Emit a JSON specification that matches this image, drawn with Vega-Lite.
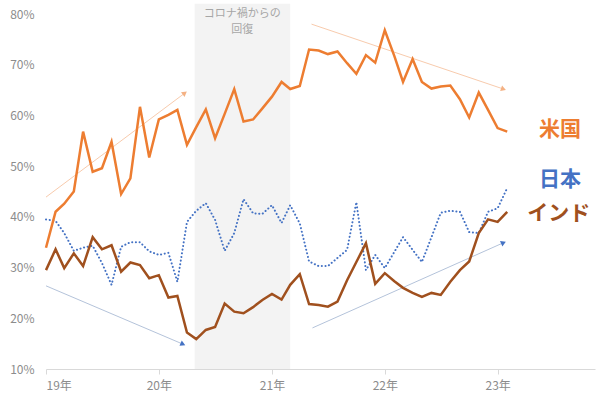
{
  "$schema": "https://vega.github.io/schema/vega-lite/v6.json",
  "autosize": {"type": "none"},
  "width": 549,
  "height": 355,
  "padding": {"left": 46, "top": 14, "right": 5, "bottom": 29},
  "background": "white",
  "config": {"view": {"stroke": null}, "font": "Noto Sans CJK JP"},
  "resolve": {"scale": {"color": "independent", "fill": "independent"}},
  "datasets": {
    "series": [
      {"date": "2019-01-01", "us": 33.9, "jp": 39.5, "in": 29.5},
      {"date": "2019-02-01", "us": 41.0, "jp": 39.2, "in": 33.6},
      {"date": "2019-03-01", "us": 42.6, "jp": 36.8, "in": 29.9},
      {"date": "2019-04-01", "us": 45.0, "jp": 33.3, "in": 32.8},
      {"date": "2019-05-01", "us": 56.8, "jp": 33.9, "in": 30.3},
      {"date": "2019-06-01", "us": 48.9, "jp": 34.3, "in": 36.0},
      {"date": "2019-07-01", "us": 49.6, "jp": 30.9, "in": 33.6},
      {"date": "2019-08-01", "us": 54.8, "jp": 26.6, "in": 34.4},
      {"date": "2019-09-01", "us": 44.5, "jp": 34.1, "in": 29.2},
      {"date": "2019-10-01", "us": 47.6, "jp": 35.0, "in": 31.0},
      {"date": "2019-11-01", "us": 61.7, "jp": 35.0, "in": 30.5},
      {"date": "2019-12-01", "us": 51.7, "jp": 33.2, "in": 27.9},
      {"date": "2020-01-01", "us": 59.2, "jp": 32.5, "in": 28.5},
      {"date": "2020-02-01", "us": 60.1, "jp": 32.9, "in": 24.1},
      {"date": "2020-03-01", "us": 61.1, "jp": 27.2, "in": 24.4},
      {"date": "2020-04-01", "us": 54.2, "jp": 39.0, "in": 17.2},
      {"date": "2020-05-01", "us": 57.7, "jp": 41.2, "in": 15.9},
      {"date": "2020-06-01", "us": 61.2, "jp": 42.7, "in": 17.7},
      {"date": "2020-07-01", "us": 55.5, "jp": 39.4, "in": 18.3},
      {"date": "2020-08-01", "us": 60.3, "jp": 33.3, "in": 22.9},
      {"date": "2020-09-01", "us": 65.2, "jp": 36.8, "in": 21.3},
      {"date": "2020-10-01", "us": 58.8, "jp": 43.5, "in": 21.0},
      {"date": "2020-11-01", "us": 59.2, "jp": 40.7, "in": 22.2},
      {"date": "2020-12-01", "us": 61.4, "jp": 40.6, "in": 23.6},
      {"date": "2021-01-01", "us": 63.7, "jp": 42.3, "in": 24.8},
      {"date": "2021-02-01", "us": 66.6, "jp": 38.8, "in": 23.7},
      {"date": "2021-03-01", "us": 65.2, "jp": 42.3, "in": 26.6},
      {"date": "2021-04-01", "us": 65.8, "jp": 38.7, "in": 28.7},
      {"date": "2021-05-01", "us": 73.0, "jp": 31.2, "in": 22.8},
      {"date": "2021-06-01", "us": 72.8, "jp": 30.3, "in": 22.6},
      {"date": "2021-07-01", "us": 72.1, "jp": 30.3, "in": 22.3},
      {"date": "2021-08-01", "us": 72.6, "jp": 31.9, "in": 23.3},
      {"date": "2021-09-01", "us": 70.3, "jp": 33.5, "in": 27.5},
      {"date": "2021-10-01", "us": 68.2, "jp": 42.9, "in": 31.1},
      {"date": "2021-11-01", "us": 71.9, "jp": 29.5, "in": 34.8},
      {"date": "2021-12-01", "us": 70.4, "jp": 32.5, "in": 26.8},
      {"date": "2022-01-01", "us": 76.8, "jp": 29.9, "in": 28.9},
      {"date": "2022-02-01", "us": 71.7, "jp": 33.1, "in": 27.3},
      {"date": "2022-03-01", "us": 66.6, "jp": 36.0, "in": 26.0},
      {"date": "2022-04-01", "us": 71.1, "jp": 33.5, "in": 25.0},
      {"date": "2022-05-01", "us": 66.6, "jp": 31.1, "in": 24.2},
      {"date": "2022-06-01", "us": 65.3, "jp": 36.0, "in": 25.0},
      {"date": "2022-07-01", "us": 65.7, "jp": 40.8, "in": 24.6},
      {"date": "2022-08-01", "us": 65.9, "jp": 41.2, "in": 27.2},
      {"date": "2022-09-01", "us": 63.2, "jp": 41.0, "in": 29.5},
      {"date": "2022-10-01", "us": 59.6, "jp": 37.0, "in": 31.2},
      {"date": "2022-11-01", "us": 64.5, "jp": 36.8, "in": 36.8},
      {"date": "2022-12-01", "us": 61.1, "jp": 41.0, "in": 39.5},
      {"date": "2023-01-01", "us": 57.5, "jp": 41.7, "in": 39.0},
      {"date": "2023-02-01", "us": 56.8, "jp": 45.7, "in": 41.0}
    ],
    "arrows": [
      {"arrow": "a1", "group": "orange", "date": "2019-01-01", "value": 43.9},
      {"arrow": "a1", "group": "orange", "date": "2020-03-25", "value": 64.4},
      {"arrow": "a2", "group": "orange", "date": "2021-05-09", "value": 78.0},
      {"arrow": "a2", "group": "orange", "date": "2023-01-20", "value": 65.2},
      {"arrow": "a3", "group": "blue", "date": "2019-01-01", "value": 26.4},
      {"arrow": "a3", "group": "blue", "date": "2020-03-19", "value": 14.9},
      {"arrow": "a4", "group": "blue", "date": "2021-05-12", "value": 18.1},
      {"arrow": "a4", "group": "blue", "date": "2023-01-20", "value": 34.9}
    ],
    "heads": [
      {"group": "orange", "date": "2020-03-25", "value": 64.4, "angle": 323},
      {"group": "orange", "date": "2023-01-20", "value": 65.2, "angle": 19},
      {"group": "blue", "date": "2020-03-19", "value": 14.9, "angle": 23},
      {"group": "blue", "date": "2023-01-20", "value": 34.9, "angle": 336}
    ],
    "band": [
      {"start": "2020-04-26", "end": "2021-03-01", "top": 82, "bottom": 10}
    ],
    "bandtext": [
      {"mid": "2020-09-27", "line": "コロナ禍からの", "labelY": 80.0},
      {"mid": "2020-09-27", "line": "回復", "labelY": 76.9}
    ],
    "names": [
      {"name": "米国", "date": "2023-07-22", "value": 57.1},
      {"name": "日本", "date": "2023-07-22", "value": 47.3},
      {"name": "インド", "date": "2023-07-18", "value": 40.6}
    ]
  },
  "layer": [
    {
      "data": {"name": "band"},
      "mark": {"type": "rect", "color": "#f3f3f3"},
      "encoding": {
        "x": {"field": "start", "type": "temporal", "scale": {"type": "utc", "domain": [1546300800000, 1699747200000]},
          "axis": {"values": [1546300800000, 1577836800000, 1609459200000, 1640995200000, 1672531200000],
            "labelExpr": "utcFormat(datum.value, '%y') + '年'", "title": null, "grid": false,
            "domainColor": "#d9d9d9", "tickColor": "#d9d9d9", "tickSize": 5,
            "labelColor": "#8c8c8c", "labelFontSize": 12, "labelPadding": 6, "labelFont": "Noto Sans CJK JP"}},
        "x2": {"field": "end"},
        "y": {"field": "top", "type": "quantitative", "scale": {"domain": [10, 80], "nice": false, "zero": false},
          "axis": {"values": [10, 20, 30, 40, 50, 60, 70, 80], "labelExpr": "datum.value + '%'", "title": null,
            "grid": false, "domain": false, "ticks": false, "labelColor": "#8c8c8c", "labelFontSize": 12,
            "labelPadding": 12, "labelFont": "Noto Sans CJK JP"}},
        "y2": {"field": "bottom"}
      }
    },
    {
      "data": {"name": "bandtext"},
      "mark": {"type": "text", "color": "#a6a6a6", "fontSize": 11, "baseline": "middle", "align": "center"},
      "encoding": {
        "x": {"field": "mid", "type": "temporal"},
        "y": {"field": "labelY", "type": "quantitative"},
        "text": {"field": "line"}
      }
    },
    {
      "data": {"name": "arrows"},
      "mark": {"type": "line", "strokeWidth": 1},
      "encoding": {
        "x": {"field": "date", "type": "temporal"},
        "y": {"field": "value", "type": "quantitative"},
        "detail": {"field": "arrow"},
        "color": {"field": "group", "type": "nominal", "scale": {"domain": ["orange", "blue"], "range": ["#f8cbad", "#b4c3da"]}, "legend": null}
      }
    },
    {
      "data": {"name": "heads"},
      "mark": {"type": "point", "shape": "triangle-right", "filled": true, "size": 34, "opacity": 1},
      "encoding": {
        "x": {"field": "date", "type": "temporal"},
        "y": {"field": "value", "type": "quantitative"},
        "angle": {"field": "angle", "type": "quantitative", "scale": null},
        "fill": {"field": "group", "type": "nominal", "scale": {"domain": ["orange", "blue"], "range": ["#f4b183", "#4472c4"]}, "legend": null}
      }
    },
    {
      "data": {"name": "series"},
      "mark": {"type": "line", "color": "#4472c4", "strokeWidth": 2, "strokeDash": [0.1, 3.6], "strokeCap": "round"},
      "encoding": {
        "x": {"field": "date", "type": "temporal"},
        "y": {"field": "jp", "type": "quantitative"}
      }
    },
    {
      "data": {"name": "series"},
      "mark": {"type": "line", "color": "#a0501e", "strokeWidth": 2.5},
      "encoding": {
        "x": {"field": "date", "type": "temporal"},
        "y": {"field": "in", "type": "quantitative"}
      }
    },
    {
      "data": {"name": "series"},
      "mark": {"type": "line", "color": "#ed7d31", "strokeWidth": 2.5},
      "encoding": {
        "x": {"field": "date", "type": "temporal"},
        "y": {"field": "us", "type": "quantitative"}
      }
    },
    {
      "data": {"name": "names"},
      "mark": {"type": "text", "fontSize": 21, "fontWeight": "bold", "align": "center", "baseline": "middle"},
      "encoding": {
        "x": {"field": "date", "type": "temporal"},
        "y": {"field": "value", "type": "quantitative"},
        "text": {"field": "name"},
        "color": {"field": "name", "type": "nominal", "scale": {"domain": ["米国", "日本", "インド"], "range": ["#ed7d31", "#4472c4", "#a0501e"]}, "legend": null}
      }
    }
  ]
}
